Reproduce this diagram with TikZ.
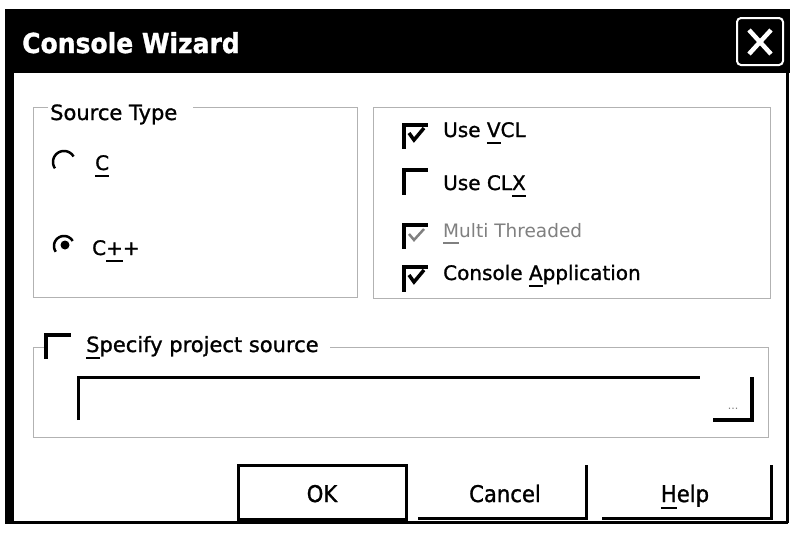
\documentclass[tikz,border=0pt]{standalone}
\usepackage{fontspec}
\setmainfont{DejaVu Sans}[FakeBold=1.2]
\newfontfamily\greyfont{DejaVu Sans}
% font size helper and access-key underline
\newcommand\setfs[1]{\fontsize{#1}{#1}\selectfont}
\newcommand\ulc[1]{\setbox0\hbox{#1}\rlap{\rule[-7pt]{\wd0}{2.2pt}}#1}
\tikzset{
  grp/.style={draw=gray!60, line width=1pt},
  chk/.style={line width=3.5pt, line cap=rect},
  lbl/.style={anchor=base west, inner sep=0pt, font=\setfs{20}},
  btnlbl/.style={anchor=base, inner sep=0pt, font=\setfs{23}},
}
\begin{document}
\begin{tikzpicture}[x=1pt,y=-1pt]
\useasboundingbox (0,0) rectangle (792,533);
\fill[white] (0,0) rectangle (792,533);

% window frame and title bar
\fill[black] (5,9) rectangle (790,73);
\fill[black] (5,73) rectangle (14,524);
\draw[line width=3pt] (5,522) -- (788,522);
\draw[line width=3pt] (787,73) -- (787,523);
\node[anchor=base west, inner sep=0pt, text=white, font=\bfseries\setfs{27.5}] (title) at (22,53) {\scalebox{0.91}[1]{Console Wizard}};

% close button
\draw[white, line width=2pt, rounded corners=4pt] (737,18) rectangle (783,65);
\draw[white, line width=4.5pt] (749,30) -- (771,54) (771,30) -- (749,54);

% Source Type group
\draw[grp] (48,107) -- (33,107) -- (33,297) -- (357,297) -- (357,107) -- (193,107);
\node[anchor=base west, inner sep=0pt, font=\setfs{21}] (srctype) at (50,120) {Source Type};

% radio buttons
\draw[line width=2.5pt] plot[domain=30:215, samples=30] ({64+11*cos(\x)},{162-11*sin(\x)});
\node[lbl] (radC) at (95,170) {\ulc{C}};
\draw[line width=2.5pt] plot[domain=30:215, samples=30] ({64+10*cos(\x)},{246-10*sin(\x)});
\fill (65,245) circle (4.5pt);
\node[lbl] (radCpp) at (92,255) {C\ulc{+}+};

% options group
\draw[grp] (373,107) rectangle (770,298);

% check boxes
\draw[chk] (404,147) -- (404,125) -- (426,125);
\draw[line width=3.5pt] (409,133) -- (414,140) -- (424,128);
\node[lbl] (vcl) at (443,137) {Use \ulc{V}CL};

\draw[chk] (404,193) -- (404,170) -- (426,170);
\node[lbl] (clx) at (443,190) {Use CL\ulc{X}};

\draw[chk] (404,247) -- (404,225) -- (426,225);
\draw[line width=2.5pt, gray] (409,234) -- (414,240) -- (424,229);
\node[lbl, text=gray, font=\greyfont\setfs{18.5}] (multi) at (443,237) {\ulc{M}ulti Threaded};

\draw[chk] (404,290) -- (404,267) -- (426,267);
\draw[line width=3.5pt] (409,275) -- (414,282) -- (424,270);
\node[lbl] (console) at (443,280) {Console \ulc{A}pplication};

% project source group
\draw[grp] (44,347) -- (33,347) -- (33,437) -- (768,437) -- (768,347) -- (330,347);
\draw[chk] (46,357) -- (46,335) -- (69,335);
\node[anchor=base west, inner sep=0pt, font=\setfs{21}] (spec) at (86,352) {\ulc{S}pecify project source};

% source path field and browse button
\draw[line width=3pt] (78,420) -- (78,377) -- (700,377);
\draw[line width=3.5pt] (713,420) -- (752,420) -- (752,377);
\node[anchor=base, inner sep=0pt, text=gray, font=\greyfont\setfs{11}] (browse) at (733,409) {...};

% dialog buttons
\draw[line width=3pt] (238,465) rectangle (406,519);
\node[btnlbl] (ok) at (322,502) {\scalebox{0.92}[1]{OK}};
\draw[line width=3pt] (418,518) -- (586,518) -- (586,465);
\node[btnlbl] (cancel) at (505,502) {\scalebox{0.92}[1]{Cancel}};
\draw[line width=3pt] (602,518) -- (771,518) -- (771,465);
\node[btnlbl] (help) at (685,502) {\scalebox{0.92}[1]{\ulc{H}elp}};
\end{tikzpicture}
\end{document}
